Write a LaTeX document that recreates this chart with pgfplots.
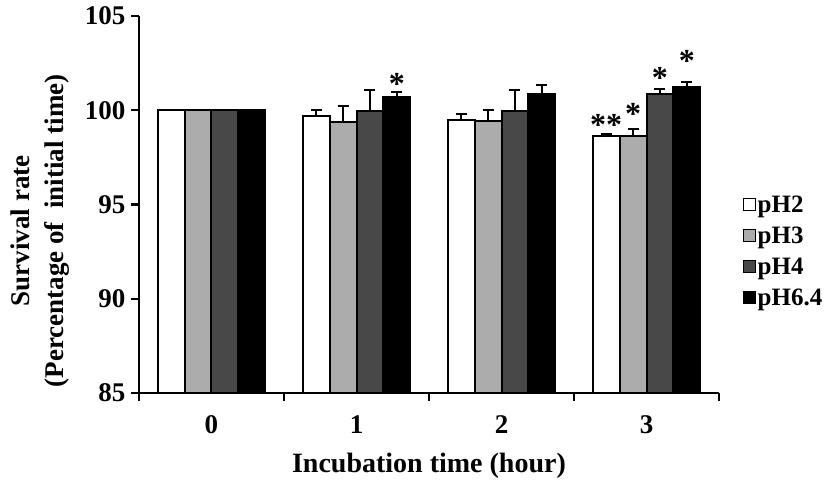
\documentclass[border=0pt]{standalone}
\usepackage{fontspec}
\setmainfont{Liberation Serif}
\usepackage{pgfplots}
\usepackage{pgfplotstable}
\pgfplotsset{compat=1.18}
\pgfplotstableread{
x  a      ea    b      eb    c      ec    d      ed
0  100    0     100    0     100    0     100    0
1  99.72  0.30  99.40  0.80  99.95  1.10  100.70 0.25
2  99.50  0.30  99.45  0.55  99.95  1.10  100.85 0.48
3  98.65  0.10  98.65  0.35  100.85 0.30  101.25 0.25
}\datatable
\definecolor{lgray}{RGB}{172,172,172}
\definecolor{dgray}{RGB}{72,72,72}
\begin{document}
\begin{tikzpicture}
\useasboundingbox (-139pt,-89pt) rectangle (688pt,393pt);
\begin{axis}[
  at={(0,0)}, anchor=south west,
  scale only axis, width=580pt, height=377pt,
  xmin=-0.5, xmax=3.5, ymin=85, ymax=105,
  axis x line=bottom, axis y line=left,
  axis line style={-, line width=2.2pt},
  xtick={-0.5,0.5,1.5,2.5,3.5},
  xticklabels={0,1,2,3,},
  xticklabel style={xshift=72.5pt, yshift=-11pt},
  ytick={85,90,95,100,105},
  tick align=outside, major tick length=8pt,
  tick style={line width=2.2pt, black},
  /pgf/number format/assume math mode=true,
  ticklabel style={font=\fontsize{27}{30}\selectfont\bfseries},
  yticklabel style={xshift=-2pt},
  xlabel={Incubation time (hour)},
  ylabel={Survival rate\\(Percentage of\ \ initial time)},
  xlabel style={font=\fontsize{28}{32}\selectfont\bfseries, at={(axis description cs:0.5,-0.192)}, anchor=center},
  ylabel style={font=\fontsize{27}{34}\selectfont\bfseries, align=center, at={(axis description cs:-0.171,0.43)}, anchor=center, rotate=0},
  ybar=0pt, bar width=0.186,
  clip=false,
  legend style={at={(1.035,0.535)}, anchor=north west, draw=none, fill=none,
    font=\fontsize{25}{28}\selectfont\bfseries, row sep=9pt, cells={anchor=west}},
  legend image code/.code={\draw[#1, line width=1.2pt] (0pt,-6pt) rectangle (12pt,6pt);},
  error bars/y dir=plus, error bars/y explicit,
  error bars/error mark options={rotate=90, line width=2pt, mark size=5.5pt, black},
  error bars/error bar style={line width=2pt, black},
]
\addplot[fill=white, draw=black, line width=2pt]
  table[x=x, y=a, y error=ea]{\datatable};
\addplot[fill=lgray, draw=black, line width=2pt]
  table[x=x, y=b, y error=eb]{\datatable};
\addplot[fill=dgray, draw=black, line width=2pt]
  table[x=x, y=c, y error=ec]{\datatable};
\addplot[fill=black, draw=black, line width=2pt]
  table[x=x, y=d, y error=ed]{\datatable};
\legend{pH2,pH3,pH4,pH6.4}
\tikzset{star/.style={font=\fontsize{32}{34}\selectfont\bfseries, inner sep=0pt, anchor=center, yshift=-5pt}}
\node[star] at (axis cs:1.279,101.65) {*};
\node[star] at (axis cs:2.721,99.51) {**};
\node[star] at (axis cs:2.907,100.05) {*};
\node[star] at (axis cs:3.093,102.0) {*};
\node[star] at (axis cs:3.279,102.86) {*};
\end{axis}
\end{tikzpicture}
\end{document}
